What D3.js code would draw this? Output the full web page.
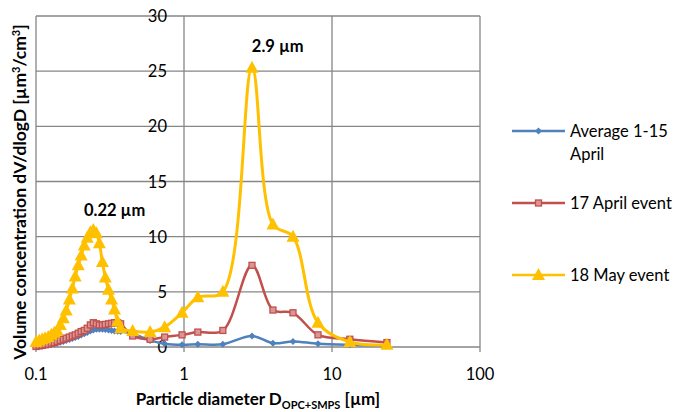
<!DOCTYPE html>
<html>
<head>
<meta charset="utf-8">
<script src="https://cdn.jsdelivr.net/npm/d3@7"></script>
<style>
  body { margin: 0; background: #fff; }
  text { font-family: Lato, "Open Sans", sans-serif; fill: #000; }
</style>
</head>
<body>
<div id="chart"></div>
<script>
var width = 684, height = 412

// SMPS channel diameters (um) and OPC channel diameters (um)
var smpsD = [0.100, 0.105, 0.110, 0.115, 0.121, 0.127, 0.133, 0.139, 0.146, 0.153,
  0.160, 0.168, 0.176, 0.184, 0.193, 0.202, 0.212, 0.222, 0.233, 0.244,
  0.256, 0.268, 0.281, 0.294, 0.309, 0.324, 0.339, 0.356, 0.373]
var opcD = [0.45, 0.59, 0.74, 0.97, 1.24, 1.83, 2.88, 3.99, 5.45, 8.04, 13.2, 23.5]

// dV/dlogD values
var avgSmps = [0.02, 0.05, 0.08, 0.12, 0.17, 0.22, 0.28, 0.35, 0.42, 0.5,
  0.58, 0.67, 0.76, 0.86, 0.96, 1.08, 1.2, 1.32, 1.45, 1.55,
  1.6, 1.62, 1.6, 1.58, 1.55, 1.5, 1.45, 1.42, 1.4]
var avgOpc = [1.2, 0.6, 0.3, 0.2, 0.25, 0.25, 1.0, 0.35, 0.5, 0.3, 0.2, 0.15]

var aprSmps = [0.05, 0.1, 0.15, 0.2, 0.25, 0.35, 0.4, 0.5, 0.6, 0.7,
  0.8, 0.9, 1.0, 1.1, 1.25, 1.4, 1.5, 1.7, 2.0, 2.2,
  2.1, 2.0, 2.0, 2.05, 2.1, 2.15, 2.2, 2.2, 2.1]
var aprOpc = [1.0, 0.7, 0.9, 1.1, 1.35, 1.5, 7.4, 3.35, 3.1, 1.1, 0.7, 0.4]

var maySmps = [0.45, 0.6, 0.7, 0.8, 0.9, 1.1, 1.3, 1.5, 2.0, 2.6,
  3.3, 4.3, 5.3, 6.4, 7.4, 8.3, 9.2, 9.9, 10.4, 10.6,
  10.3, 9.4, 7.7, 6.3, 5.2, 4.3, 3.4, 2.3, 1.7]
var mayOpc = [1.45, 1.35, 1.8, 3.1, 4.5, 5.0, 25.3, 11.1, 10.0, 2.2, 0.45, 0.2]

var seriesNames = ["Average 1-15 April", "17 April event", "18 May event"]
var colors = ["#4F81BD", "#C0504D", "#FFC000"]
var xTicks = [0.1, 1, 10, 100]
var yTicks = [0, 5, 10, 15, 20, 25, 30]

var diam = smpsD.concat(opcD)
var series = [avgSmps.concat(avgOpc), aprSmps.concat(aprOpc), maySmps.concat(mayOpc)]
  .map(function(vals, i) {
    return { name: seriesNames[i], color: colors[i], i: i,
      points: vals.map(function(v, j) { return { d: diam[j], v: v } }) }
  })

var margin = { left: 36, top: 16, right: 204, bottom: 65 }

var x = d3.scaleLog()
  .domain([0.1, 100])
  .range([margin.left, width - margin.right])

var y = d3.scaleLinear()
  .domain([0, 30])
  .range([height - margin.bottom, margin.top])

var svg = d3.select("#chart").append("svg")
  .attr("width", width)
  .attr("height", height)

var grid = "#868686"
var fs = "16.5px"

// horizontal gridlines
svg.append("g").selectAll("line")
  .data(yTicks)
  .enter().append("line")
    .attr("x1", x(0.1)).attr("x2", x(100))
    .attr("y1", function(d) { return y(d) }).attr("y2", function(d) { return y(d) })
    .attr("stroke", grid).attr("stroke-width", 1.3)

// vertical gridlines + tick marks
svg.append("g").selectAll("line")
  .data(xTicks)
  .enter().append("line")
    .attr("x1", function(d) { return x(d) }).attr("x2", function(d) { return x(d) })
    .attr("y1", y(30)).attr("y2", y(0) + 5)
    .attr("stroke", grid).attr("stroke-width", 1.3)

// x tick labels
svg.append("g").selectAll("text")
  .data(xTicks)
  .enter().append("text")
    .attr("x", function(d) { return x(d) })
    .attr("y", y(0) + 33)
    .attr("text-anchor", "middle")
    .style("font-size", fs)
    .text(function(d) { return d })

// y tick labels (axis crosses at x = 1)
svg.append("g").selectAll("text")
  .data(yTicks)
  .enter().append("text")
    .attr("x", x(1) - 17)
    .attr("y", function(d) { return y(d) + 6 })
    .attr("text-anchor", "end")
    .style("font-size", fs)
    .text(function(d) { return d })

// lines
var line = d3.line()
  .x(function(d) { return x(d.d) })
  .y(function(d) { return y(d.v) })
  .curve(d3.curveCatmullRom.alpha(0.5))

function marker(sel, i) {
  if (i == 0) {
    sel.append("path").attr("d", "M0,-3.5L3.5,0L0,3.5L-3.5,0Z")
      .attr("fill", colors[0])
  } else if (i == 1) {
    sel.append("rect").attr("x", -3).attr("y", -3).attr("width", 6).attr("height", 6)
      .attr("fill", "#D99694").attr("stroke", colors[1]).attr("stroke-width", 1.3)
  } else {
    sel.append("path").attr("d", "M0,-7L6.5,5L-6.5,5Z")
      .attr("fill", colors[2])
  }
}

series.forEach(function(s) {
  var g = svg.append("g")
  g.append("path")
    .attr("d", line(s.points))
    .attr("fill", "none")
    .attr("stroke", s.color)
    .attr("stroke-width", s.i == 2 ? 3 : 2.5)
  g.selectAll("g.pt")
    .data(s.points)
    .enter().append("g")
      .attr("class", "pt")
      .attr("transform", function(d) { return "translate(" + x(d.d) + "," + y(d.v) + ")" })
      .each(function() { marker(d3.select(this), s.i) })
})

// annotations
svg.append("text")
  .attr("x", x(0.34)).attr("y", y(11.9))
  .attr("text-anchor", "middle")
  .style("font-size", fs).style("font-weight", "bold")
  .text("0.22 µm")

svg.append("text")
  .attr("x", x(4.3)).attr("y", y(26.7))
  .attr("text-anchor", "middle")
  .style("font-size", fs).style("font-weight", "bold")
  .text("2.9 µm")

// axis titles
svg.append("text")
  .attr("transform", "translate(26,192) rotate(-90)")
  .attr("text-anchor", "middle")
  .style("font-size", "17.5px").style("font-weight", "bold")
  .html("Volume concentration dV/dlogD [µm<tspan dy='-6' font-size='11px'>3</tspan><tspan dy='6'>/cm</tspan><tspan dy='-6' font-size='11px'>3</tspan><tspan dy='6'>]</tspan>")

svg.append("text")
  .attr("x", 258).attr("y", 405)
  .attr("text-anchor", "middle")
  .style("font-size", "17px").style("font-weight", "bold")
  .html("Particle diameter D<tspan dy='4' font-size='11px'>OPC+SMPS</tspan><tspan dy='-4'> [µm]</tspan>")

// legend
var legend = svg.append("g").attr("transform", "translate(512,0)")
var legY = [131, 203, 275]
series.forEach(function(s, i) {
  var g = legend.append("g").attr("transform", "translate(0," + legY[i] + ")")
  g.append("line").attr("x1", 0).attr("x2", 53)
    .attr("stroke", s.color).attr("stroke-width", 2.5)
  var m = g.append("g").attr("transform", "translate(26.5,0)")
  marker(m, i)
})
legend.append("text").attr("x", 58).attr("y", legY[0] + 6).style("font-size", fs).text("Average 1-15")
legend.append("text").attr("x", 58).attr("y", legY[0] + 29).style("font-size", fs).text("April")
legend.append("text").attr("x", 58).attr("y", legY[1] + 6).style("font-size", fs).text("17 April event")
legend.append("text").attr("x", 58).attr("y", legY[2] + 6).style("font-size", fs).text("18 May event")
</script>
</body>
</html>
